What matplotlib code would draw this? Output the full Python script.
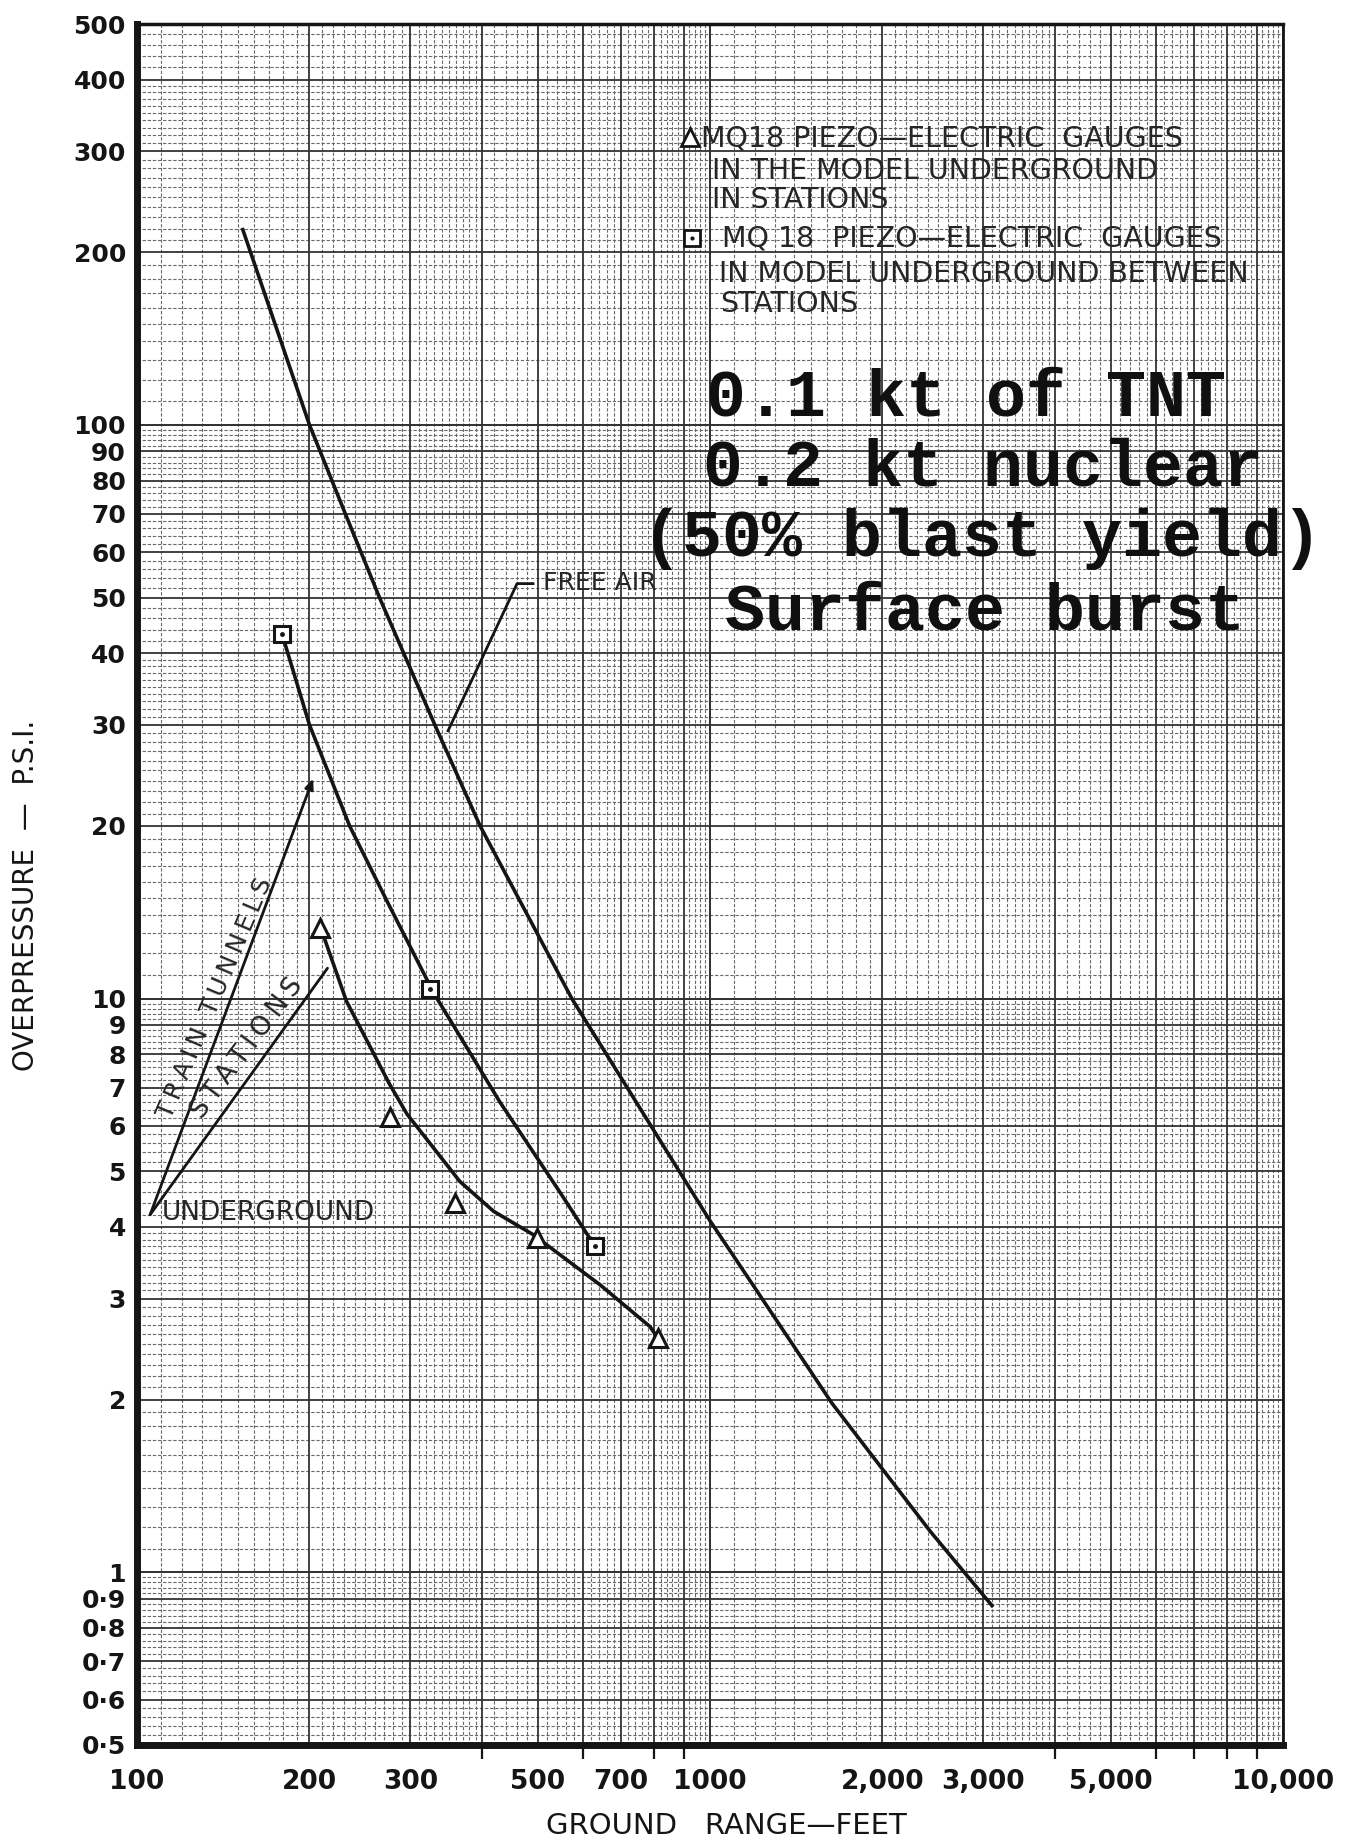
import numpy as np
import matplotlib
matplotlib.use("Agg")
import matplotlib.pyplot as plt

# free air curve (ground range ft, overpressure psi)
free_air_x = [153, 200, 231, 265, 331, 397, 574, 1000, 1633, 2421, 3105]
free_air_y = [219, 100, 70, 50, 30, 20, 10, 4.1, 1.97, 1.18, 0.875]

# underground, between stations (squares)
tunnel_x = [179, 200, 235, 273, 330, 430, 547, 630]
tunnel_y = [43.3, 30, 20, 14.8, 10.2, 6.6, 4.6, 3.7]
tunnel_pts_x = [179, 325, 630]
tunnel_pts_y = [43.3, 10.4, 3.7]

# underground, in stations (triangles)
station_x = [212, 232, 276, 296, 366, 419, 491, 643, 786, 811]
station_y = [12.8, 9.9, 7.09, 6.29, 4.8, 4.26, 3.88, 3.17, 2.68, 2.56]
station_pts_x = [209, 276, 359, 499, 811]
station_pts_y = [13.3, 6.23, 4.40, 3.82, 2.56]

y_ticks = [500, 400, 300, 200, 100, 90, 80, 70, 60, 50, 40, 30, 20,
           10, 9, 8, 7, 6, 5, 4, 3, 2, 1, 0.9, 0.8, 0.7, 0.6, 0.5]
y_labels = ["500", "400", "300", "200", "100", "90", "80", "70", "60", "50",
            "40", "30", "20", "10", "9", "8", "7", "6", "5", "4", "3", "2",
            "1", "0·9", "0·8", "0·7", "0·6", "0·5"]
x_ticks = [100, 200, 300, 500, 700, 1000, 2000, 3000, 5000, 10000]
x_labels = ["100", "200", "300", "500", "700", "1000", "2,000", "3,000",
            "5,000", "10,000"]
x_marks = [400, 600, 800, 900, 4000, 6000, 7000, 8000, 9000]

legend_lines = ["MQ18 PIEZO\u2014ELECTRIC  GAUGES", "IN THE MODEL UNDERGROUND",
                "IN STATIONS", "MQ 18  PIEZO\u2014ELECTRIC  GAUGES",
                "IN MODEL UNDERGROUND BETWEEN", "STATIONS"]
yield_lines = ["0.1 kt of TNT", "0.2 kt nuclear", "(50% blast yield)",
               "Surface burst"]

W, H = 1369, 1845
fig = plt.figure(figsize=(W / 100, H / 100), dpi=100)
ax = fig.add_axes([137 / W, 1 - 1745 / H, 1146 / W, 1721 / H])
ax.set_xscale("log")
ax.set_yscale("log")
ax.set_xlim(100, 10000)
ax.set_ylim(0.5, 500)

ink = "#151515"
txt = "#262626"
narrow = ["Liberation Sans Narrow", "DejaVu Sans"]


def paper(lo, hi, vmin, vmax):
    major, minor = [], []
    for d in range(lo, hi):
        b = 10.0 ** d
        major += [k * b for k in range(1, 11)]
        minor += [v * b for v in np.arange(1.1, 4.0, 0.1) if abs(v - round(v)) > 1e-6]
        minor += [v * b for v in np.arange(4.2, 10.0, 0.2) if abs(v - round(v)) > 1e-6]
    keep = lambda L: [v for v in L if vmin * 0.999 < v < vmax * 1.001]
    return keep(major), keep(minor)


ymaj, ymin_ = paper(-1, 3, 0.5, 500)
xmaj, xmin_ = paper(2, 4, 100, 10000)
gx = ax.get_yaxis_transform()
gy = ax.get_xaxis_transform()
ax.hlines(ymin_, 0, 1, transform=gx, colors="#6a6a6a", lw=0.8,
          linestyles=(0, (3, 1.6)), zorder=0)
ax.vlines(xmin_, 0, 1, transform=gy, colors="#6a6a6a", lw=0.8,
          linestyles=(0, (3, 1.6)), zorder=0)
ax.hlines(ymaj, 0, 1, transform=gx, colors="#333333", lw=1.3, zorder=0)
ax.vlines(xmaj, 0, 1, transform=gy, colors="#333333", lw=1.3, zorder=0)

# curves
for cx, cy in [(free_air_x, free_air_y), (tunnel_x, tunnel_y),
               (station_x, station_y)]:
    ax.plot(cx, cy, color=ink, lw=2.6, zorder=3, solid_joinstyle="round")
ax.plot(tunnel_pts_x, tunnel_pts_y, ls="none", marker="s", ms=12, mfc="white",
        mec=ink, mew=2.2, zorder=4)
ax.plot(tunnel_pts_x, tunnel_pts_y, ls="none", marker=".", ms=5, color=ink, zorder=5)
ax.plot(station_pts_x, station_pts_y, ls="none", marker="^", ms=13, mfc="white",
        mec=ink, mew=2.2, zorder=4)

# axes frame & ticks
for side, lw in [("left", 5), ("bottom", 5), ("top", 2.5), ("right", 2)]:
    ax.spines[side].set_linewidth(lw)
    ax.spines[side].set_color(ink)
ax.set_yticks(y_ticks)
ax.set_yticklabels(y_labels)
ax.set_xticks(x_ticks)
ax.set_xticklabels(x_labels)
ax.set_xticks(x_marks, minor=True)
ax.yaxis.set_minor_locator(matplotlib.ticker.NullLocator())
ax.xaxis.set_minor_formatter(matplotlib.ticker.NullFormatter())
ax.tick_params(axis="y", which="major", length=0, pad=8, labelsize=18,
               labelcolor=ink)
ax.tick_params(axis="x", which="major", length=0, pad=17, labelsize=19,
               labelcolor=ink)
ax.tick_params(axis="x", which="minor", direction="out", length=10, width=1.6,
               color=ink)
for t in ax.get_xticklabels() + ax.get_yticklabels():
    t.set_fontweight("bold")

ax.set_ylabel("OVERPRESSURE  \u2014  P.S.I.", fontsize=20, family=narrow,
              color=ink)
ax.yaxis.set_label_coords(-0.085, (1745 - 895) / 1721)
ax.set_xlabel("GROUND   RANGE\u2014FEET", fontsize=21, family=narrow,
              color=ink, va="center")
ax.xaxis.set_label_coords((726 - 137) / 1146, (1745 - 1826) / 1721)


def afrac(px, py):
    return ((px - 137) / 1146, (1745 - py) / 1721)


# gauge legend in the upper right
leg_pos = [(701, 139), (712, 171), (712, 200), (722, 239), (719, 274), (720, 304)]
for s, (px, py) in zip(legend_lines, leg_pos):
    ax.text(*afrac(px, py), s, transform=ax.transAxes, fontsize=20.5,
            family=narrow, color=txt, va="center", ha="left", zorder=6)
ax.plot(*afrac(690, 137), transform=ax.transAxes, marker="^", ms=13,
        mfc="white", mec=ink, mew=2, zorder=6)
ax.plot(*afrac(692, 238), transform=ax.transAxes, marker="s", ms=12,
        mfc="white", mec=ink, mew=2, zorder=6)
ax.plot(*afrac(692, 238), transform=ax.transAxes, marker=".", ms=4,
        color=ink, zorder=7)

# yield block
for s, px, py in zip(yield_lines, [966, 983, 982, 985], [398, 468, 539, 612]):
    ax.text(*afrac(px, py), s, transform=ax.transAxes, fontsize=48,
            family="Liberation Mono", fontweight="bold", color="#101010",
            ha="center", va="center", zorder=6)

# free air pointer
ax.plot([349, 460.5, 491], [29.3, 52.9, 52.9], color=ink, lw=2, zorder=5)
ax.text(*afrac(543, 583), "FREE AIR", transform=ax.transAxes, fontsize=18,
        family=narrow, color=txt, va="center", ha="left", zorder=6)

# underground pointers
ax.annotate("", xy=(203, 24.2), xytext=(105.4, 4.2),
            arrowprops=dict(arrowstyle="-|>,head_length=0.6,head_width=0.25",
                            color=ink, lw=2, shrinkA=0, shrinkB=0), zorder=5)
ax.annotate("", xy=(215, 11.3), xytext=(105.4, 4.2),
            arrowprops=dict(arrowstyle="-", color=ink, lw=2,
                            shrinkA=0, shrinkB=0), zorder=5)
ax.text(*afrac(162, 1213), "UNDERGROUND", transform=ax.transAxes, fontsize=19,
        family=narrow, color=txt, va="center", ha="left", zorder=6)
ts = "\u2009"
ax.text(*afrac(226, 1003), ts.join("TRAIN") + "  " + ts.join("TUNNELS"),
        transform=ax.transAxes, fontsize=18, family=["DejaVu Sans"],
        color=txt, rotation=67, rotation_mode="anchor", ha="center",
        va="bottom", zorder=6)
ax.text(*afrac(258, 1056), ts.join("STATIONS"), transform=ax.transAxes,
        fontsize=19, family=["DejaVu Sans"], color=txt, rotation=53,
        rotation_mode="anchor", ha="center", va="bottom", zorder=6)

fig.savefig("out.png", dpi=100, facecolor="white")
